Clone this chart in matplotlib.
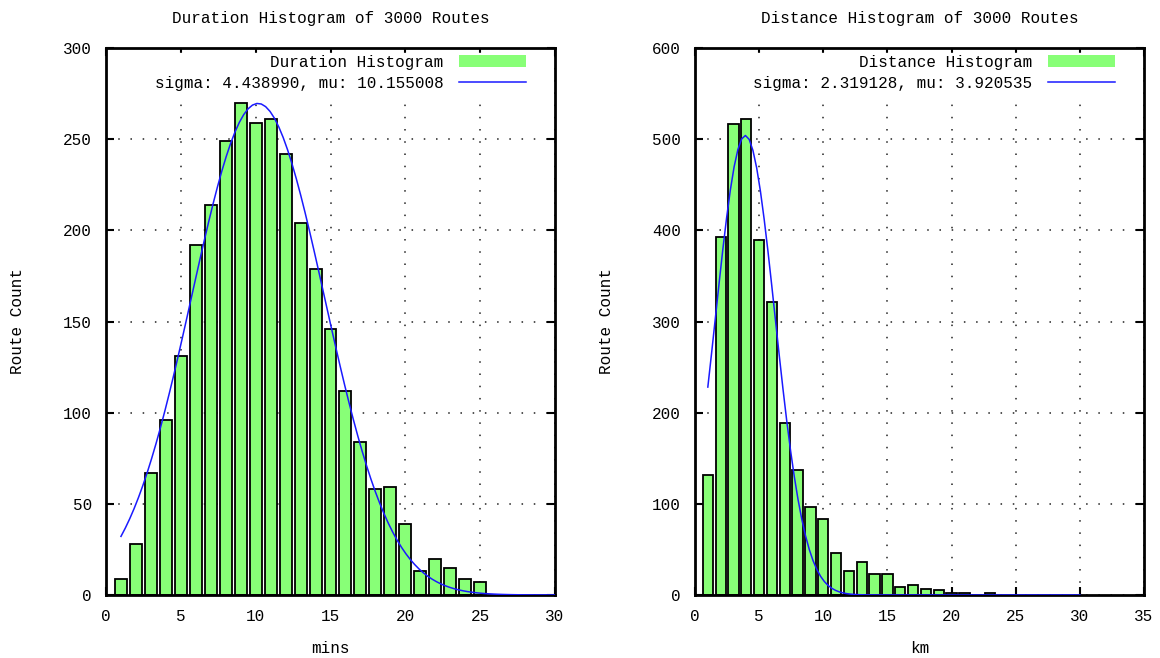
import numpy as np
import matplotlib
matplotlib.use("Agg")
import matplotlib.pyplot as plt
from matplotlib.patches import Patch

plt.rcParams['font.family'] = ['Liberation Mono', 'DejaVu Sans Mono']
plt.rcParams['font.size'] = 11.5

# duration histogram (minutes, 1-min bins)
dur_mins = list(range(1, 26))
dur_counts = [9, 28, 67, 96, 131, 192, 214, 249, 270, 259, 261, 242, 204,
              179, 146, 112, 84, 58, 59, 39, 13, 20, 15, 9, 7]
dur_sigma = 4.438990
dur_mu = 10.155008
dur_area = 3000

# distance histogram (km, 1-km bins)
dist_km = list(range(1, 24))
dist_counts = [132, 393, 517, 522, 389, 321, 189, 137, 96, 83, 46, 26, 36,
               23, 23, 9, 11, 7, 5, 2, 2, 0, 2]
dist_sigma = 2.319128
dist_mu = 3.920535
dist_area = 2930

bar_green = '#88ff77'
fit_blue = '#1a1aff'


def gauss(x, mu, sigma, area):
    return area / (sigma * np.sqrt(2 * np.pi)) * np.exp(-(x - mu) ** 2 / (2 * sigma ** 2))


def draw_panel(ax, xs, counts, mu, sigma, area, name, xlabel, xmax, ymax, ystep):
    ax.set_axisbelow(True)
    ax.grid(True, color='#222222', linestyle=(0, (1, 7)), linewidth=1.1)
    ax.bar(xs, counts, width=0.8, color=bar_green, edgecolor='black',
           linewidth=1.3, zorder=2)
    fx = np.linspace(1, 30, 100)
    line, = ax.plot(fx, gauss(fx, mu, sigma, area), color=fit_blue, linewidth=1.1,
                    zorder=3)

    ax.set_xlim(0, xmax)
    ax.set_ylim(0, ymax)
    ax.set_xticks(range(0, xmax + 1, 5))
    ax.set_yticks(range(0, ymax + 1, ystep))
    ax.tick_params(direction='in', length=6, width=1.5, top=True, right=True,
                   pad=10)
    for s in ax.spines.values():
        s.set_linewidth(2)

    ax.set_title(name + ' Histogram of 3000 Routes', pad=18, fontsize=11.5)
    ax.set_xlabel(xlabel, va='center')
    ax.xaxis.set_label_coords(0.5, -0.097)
    ax.set_ylabel('Route Count', va='center')
    ax.yaxis.set_label_coords(-0.198, 0.5)

    box = Patch(facecolor=bar_green, edgecolor='none')
    leg = ax.legend([box, line],
                    [name + ' Histogram', 'sigma: %f, mu: %f' % (sigma, mu)],
                    loc='upper right', bbox_to_anchor=(1 - 27 / 449, 1 - 5 / 547),
                    markerfirst=False, handlelength=4.2, handletextpad=1.0,
                    handleheight=0.8, borderpad=0.1, borderaxespad=0,
                    labelspacing=0.4, frameon=True, fancybox=False,
                    edgecolor='white', facecolor='white', framealpha=1)
    leg.set_zorder(5)


fig = plt.figure(figsize=(11.6, 6.58), dpi=100)
ax1 = fig.add_axes([106 / 1160, 1 - 595 / 658, 449 / 1160, 547 / 658])
ax2 = fig.add_axes([695 / 1160, 1 - 595 / 658, 449 / 1160, 547 / 658])

draw_panel(ax1, dur_mins, dur_counts, dur_mu, dur_sigma, dur_area,
           'Duration', 'mins', 30, 300, 50)
draw_panel(ax2, dist_km, dist_counts, dist_mu, dist_sigma, dist_area,
           'Distance', 'km', 35, 600, 100)

fig.savefig('out.png', dpi=100)
